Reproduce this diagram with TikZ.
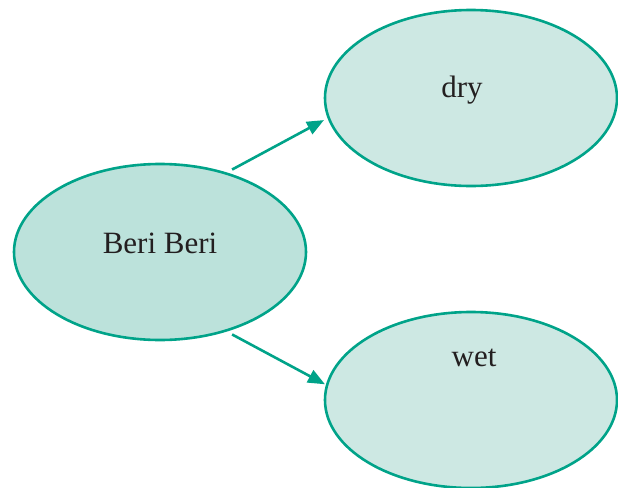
\documentclass[tikz,border=0pt]{standalone}
\usepackage{tikz}
\usetikzlibrary{shapes,arrows.meta,positioning,calc}
\usepackage{xcolor}
\usepackage{fontspec}
\setmainfont{Liberation Serif}
\definecolor{tealline}{HTML}{00A389}
\definecolor{rootfill}{HTML}{BCE2DB}
\definecolor{leaffill}{HTML}{CDE8E3}
\definecolor{inktext}{HTML}{231F20}

\begin{document}
\begin{tikzpicture}[x=0.5pt, y=-0.5pt,
    bulle/.style={ellipse, draw=tealline, line width=1.3pt, minimum width=146pt, minimum height=88pt, inner sep=0pt},
    etiquette/.style={text=inktext, font=\fontsize{15.5}{18}\selectfont},
    fleche/.style={draw=tealline, line width=1.3pt, -{Triangle[length=8.5pt,width=6.8pt]}}]
    \useasboundingbox (0,0) rectangle (618,488);

    % Ellipse de gauche
    \node[bulle, fill=rootfill] (beri) at (160,252) {};
    \node[etiquette, yshift=4.5pt] (beritxt) at (beri) {Beri Beri};

    % Ellipses de droite
    \node[bulle, fill=leaffill] (dry) at (471,98) {};
    \node[etiquette, xshift=-4.5pt, yshift=4pt] (drytxt) at (dry) {dry};
    \node[bulle, fill=leaffill] (wet) at (471,400) {};
    \node[etiquette, xshift=1.5pt, yshift=21pt] (wettxt) at (wet) {wet};

    % Fleches
    \draw[fleche, shorten <=3pt, shorten >=2pt] (beri.50) -- (dry.188.5);
    \draw[fleche, shorten <=3pt, shorten >=0.5pt] (beri.-50) -- (wet.174.6);
\end{tikzpicture}
\end{document}
